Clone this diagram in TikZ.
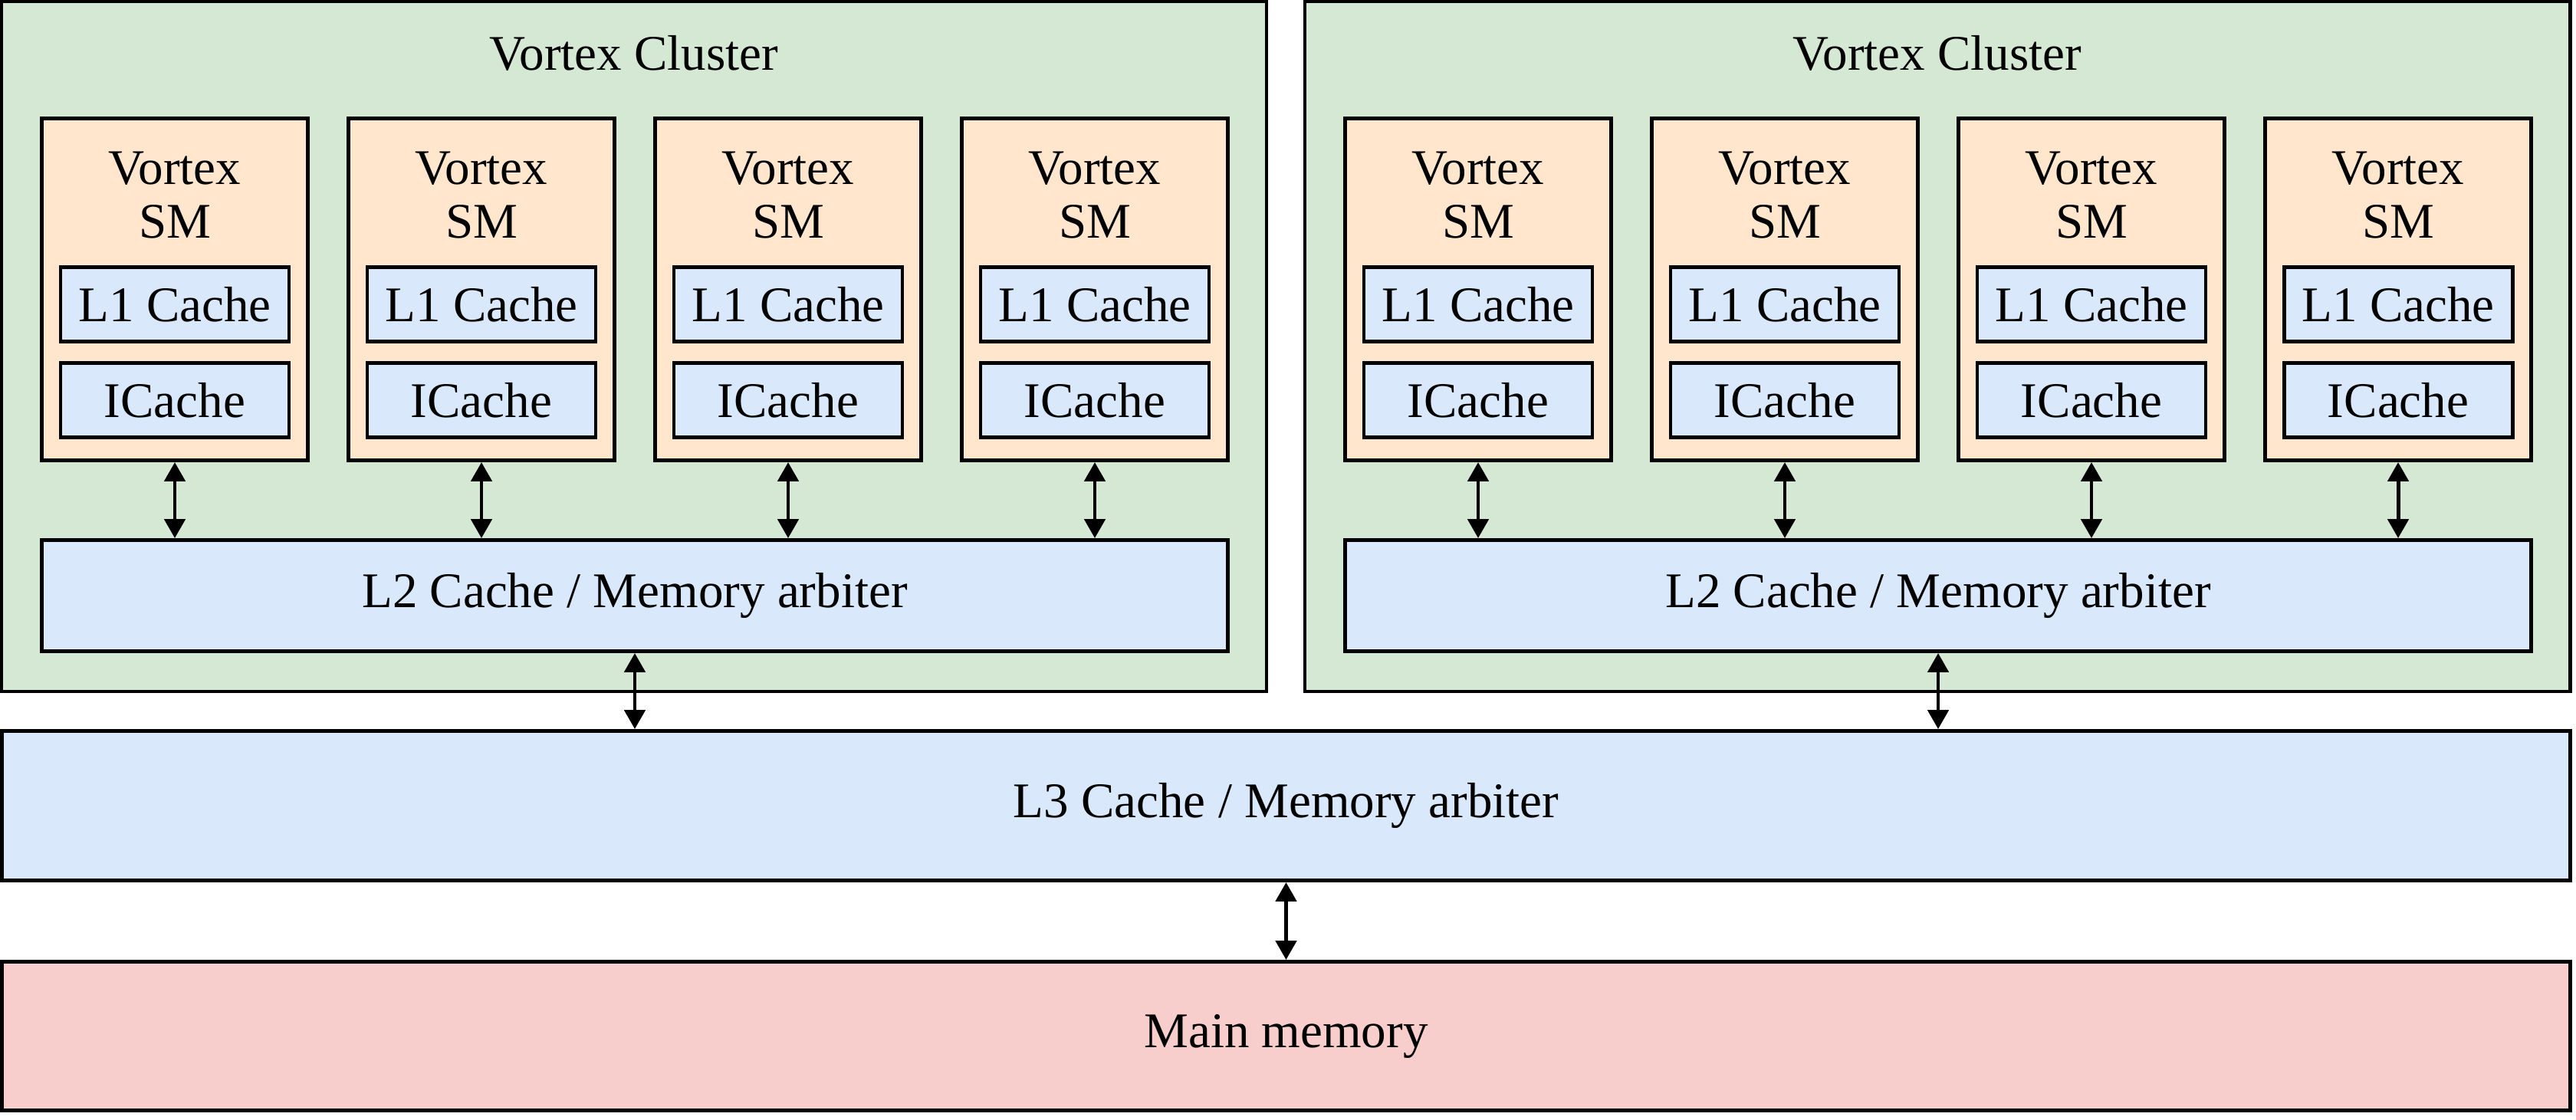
\documentclass[tikz,border=0pt]{standalone}
\usepackage{fontspec}
\setmainfont{Liberation Serif}
\usepackage{tikz}
\usetikzlibrary{arrows.meta, positioning}
\usepackage{xcolor}
\definecolor{clustergreen}{RGB}{213, 232, 212}
\definecolor{smorange}{RGB}{255, 230, 204}
\definecolor{cacheblue}{RGB}{218, 232, 252}
\definecolor{memred}{RGB}{248, 206, 204}

\begin{document}
\begin{tikzpicture}[
    box/.style={rectangle, draw=black, line width=1.4pt, align=center, font=\fontsize{18.5pt}{19.9pt}\selectfont},
    cluster/.style={box, fill=clustergreen, minimum width=16.5cm, minimum height=9cm},
    sm/.style={box, fill=smorange, minimum width=3.47cm, minimum height=4.46cm},
    cache/.style={box, fill=cacheblue, minimum width=2.98cm, minimum height=0.97cm},
    l2box/.style={box, fill=cacheblue, minimum width=15.47cm, minimum height=1.45cm},
    title/.style={anchor=north, inner sep=0pt, align=center, font=\fontsize{18.5pt}{19.9pt}\selectfont},
    arrow/.style={{Triangle[length=2.5mm, width=2.7mm]}-{Triangle[length=2.5mm, width=2.7mm]}, line width=1.4pt}
]
\useasboundingbox (0,0) rectangle (33.6,-14.6);

% Clusters
\node[cluster, label={[title, yshift=-0.46cm]north:Vortex Cluster}] (clusterA) at (8.27, -4.52) {};
\node[cluster, label={[title, yshift=-0.46cm]north:Vortex Cluster}] (clusterB) at (25.27, -4.52) {};

% Cluster A cores
\node[sm, label={[title, yshift=-0.45cm]north:Vortex\\SM}] (smA1) at (2.28, -3.775) {};
\node[sm, label={[title, yshift=-0.45cm]north:Vortex\\SM}] (smA2) at (6.28, -3.775) {};
\node[sm, label={[title, yshift=-0.45cm]north:Vortex\\SM}] (smA3) at (10.28, -3.775) {};
\node[sm, label={[title, yshift=-0.45cm]north:Vortex\\SM}] (smA4) at (14.28, -3.775) {};
\node[cache] (l1A1) at (2.28, -3.97) {L1 Cache};
\node[cache] (l1A2) at (6.28, -3.97) {L1 Cache};
\node[cache] (l1A3) at (10.28, -3.97) {L1 Cache};
\node[cache] (l1A4) at (14.28, -3.97) {L1 Cache};
\node[cache] (icA1) at (2.28, -5.22) {ICache};
\node[cache] (icA2) at (6.28, -5.22) {ICache};
\node[cache] (icA3) at (10.28, -5.22) {ICache};
\node[cache] (icA4) at (14.28, -5.22) {ICache};
\node[l2box] (l2A) at (8.28, -7.77) {L2 Cache / Memory arbiter};

% Cluster B cores
\node[sm, label={[title, yshift=-0.45cm]north:Vortex\\SM}] (smB1) at (19.28, -3.775) {};
\node[sm, label={[title, yshift=-0.45cm]north:Vortex\\SM}] (smB2) at (23.28, -3.775) {};
\node[sm, label={[title, yshift=-0.45cm]north:Vortex\\SM}] (smB3) at (27.28, -3.775) {};
\node[sm, label={[title, yshift=-0.45cm]north:Vortex\\SM}] (smB4) at (31.28, -3.775) {};
\node[cache] (l1B1) at (19.28, -3.97) {L1 Cache};
\node[cache] (l1B2) at (23.28, -3.97) {L1 Cache};
\node[cache] (l1B3) at (27.28, -3.97) {L1 Cache};
\node[cache] (l1B4) at (31.28, -3.97) {L1 Cache};
\node[cache] (icB1) at (19.28, -5.22) {ICache};
\node[cache] (icB2) at (23.28, -5.22) {ICache};
\node[cache] (icB3) at (27.28, -5.22) {ICache};
\node[cache] (icB4) at (31.28, -5.22) {ICache};
\node[l2box] (l2B) at (25.28, -7.77) {L2 Cache / Memory arbiter};

% Shared levels
\node[box, fill=cacheblue, minimum width=33.5cm, minimum height=1.95cm] (l3) at (16.775, -10.51) {L3 Cache / Memory arbiter};
\node[box, fill=memred, minimum width=33.5cm, minimum height=1.94cm] (mem) at (16.775, -13.515) {Main memory};

% Core <-> L2
\draw[arrow] (smA1.south) -- (smA1.south |- l2A.north);
\draw[arrow] (smA2.south) -- (smA2.south |- l2A.north);
\draw[arrow] (smA3.south) -- (smA3.south |- l2A.north);
\draw[arrow] (smA4.south) -- (smA4.south |- l2A.north);
\draw[arrow] (smB1.south) -- (smB1.south |- l2B.north);
\draw[arrow] (smB2.south) -- (smB2.south |- l2B.north);
\draw[arrow] (smB3.south) -- (smB3.south |- l2B.north);
\draw[arrow] (smB4.south) -- (smB4.south |- l2B.north);

% L2 <-> L3 <-> memory
\draw[arrow] (l2A.south) -- (l2A.south |- l3.north);
\draw[arrow] (l2B.south) -- (l2B.south |- l3.north);
\draw[arrow] (l3.south) -- (mem.north);

\end{tikzpicture}
\end{document}
